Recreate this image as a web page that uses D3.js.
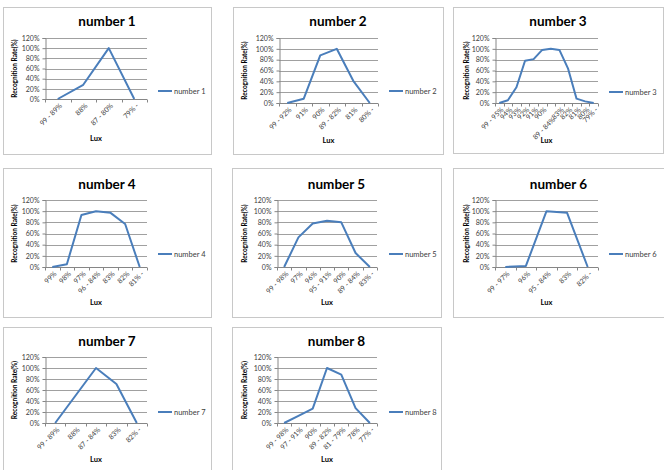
<!DOCTYPE html>
<html><head><meta charset="utf-8">
<script src="https://cdn.jsdelivr.net/npm/d3@7/dist/d3.min.js"></script>
<style>
html,body{margin:0;padding:0;background:#fff;}
svg{display:block;font-family:Lato,"Open Sans",sans-serif;}
</style></head>
<body>
<svg id="chart" width="664" height="470"></svg>
<script>
// ---- data ----
const titles = ["number 1","number 2","number 3","number 4","number 5","number 6","number 7","number 8"];
const cats1 = ["99 - 89%","88%","87 - 80%","79% -"];
const vals1 = [0, 0.28, 1.00, 0];
const cats2 = ["99 - 92%","91%","90%","89 - 82%","81%","80% -"];
const vals2 = [0, 0.08, 0.88, 1.00, 0.41, 0];
const cats3 = ["99 - 95%","94%","93%","92%","91%","90%","89 - 84%","83%","82%","81%","80%","79% -"];
const vals3 = [0, 0.05, 0.29, 0.78, 0.81, 0.98, 1.00, 0.98, 0.64, 0.08, 0.03, 0];
const cats4 = ["99%","98%","97%","96 - 84%","83%","82%","81% -"];
const vals4 = [0, 0.05, 0.93, 1.00, 0.97, 0.77, 0];
const cats5 = ["99 - 98%","97%","96%","95 - 91%","90%","89 - 84%","83% -"];
const vals5 = [0, 0.53, 0.78, 0.83, 0.80, 0.25, 0];
const cats6 = ["99 - 97%","96%","95 - 84%","83%","82% -"];
const vals6 = [0, 0.02, 1.00, 0.97, 0];
const cats7 = ["99 - 89%","88%","87 - 84%","83%","82% -"];
const vals7 = [0, 0.50, 1.00, 0.71, 0];
const cats8 = ["99 - 98%","97 - 91%","90%","89 - 82%","81 - 79%","78%","77% -"];
const vals8 = [0, 0.13, 0.26, 1.00, 0.88, 0.27, 0];
const yTicks = [0, 0.2, 0.4, 0.6, 0.8, 1.0, 1.2];
const yTitle = "Recognition Rate(%)";
const xTitle = "Lux";

const allCats = [cats1,cats2,cats3,cats4,cats5,cats6,cats7,cats8];
const allVals = [vals1,vals2,vals3,vals4,vals5,vals6,vals7,vals8];

// ---- layout (positions only) ----
const panels = [
  {x:3,   y:7,   w:208, h:147, pl:45,  pr:147, pt:38,  pb:99,  yt:15,  tb:26,  lb:141, lg:158, ly:91},
  {x:233, y:7,   w:210, h:147, pl:279, pr:378, pt:38,  pb:103, yt:245, tb:26,  lb:143, lg:389, ly:91},
  {x:453, y:7,   w:210, h:146, pl:495, pr:598, pt:38,  pb:103, yt:467, tb:26,  lb:143, lg:609, ly:92},
  {x:3,   y:168, w:208, h:149, pl:45,  pr:147, pt:200, pb:267, yt:15,  tb:189, lb:305, lg:158, ly:254},
  {x:232, y:168, w:209, h:149, pl:277, pr:377, pt:200, pb:267, yt:245, tb:189, lb:305, lg:389, ly:254},
  {x:453, y:168, w:211, h:149, pl:495, pr:598, pt:200, pb:267, yt:467, tb:189, lb:305, lg:609, ly:254},
  {x:3,   y:327, w:208, h:150, pl:45,  pr:147, pt:357, pb:423, yt:15,  tb:346, lb:462, lg:158, ly:412},
  {x:232, y:327, w:209, h:150, pl:277, pr:377, pt:357, pb:423, yt:245, tb:346, lb:462, lg:389, ly:412}
];
const lineColor = "#4A7EBB";
const gridColor = "#a0a0a0";
const axisColor = "#868686";
const textColor = "#404040";

const svg = d3.select("#chart");

panels.forEach((p, i) => {
  const cats = allCats[i], vals = allVals[i];
  const g = svg.append("g");
  g.append("rect").attr("x", p.x + 0.5).attr("y", p.y + 0.5).attr("width", p.w).attr("height", p.h)
    .attr("fill", "#fff").attr("stroke", "#c8c8c8").attr("stroke-width", 1);

  const x = d3.scaleBand().domain(cats).range([p.pl, p.pr]).padding(0);
  const y = d3.scaleLinear().domain([0, 1.2]).range([p.pb, p.pt]);

  // gridlines
  g.append("g").selectAll("line").data(yTicks.slice(1)).join("line")
    .attr("x1", p.pl).attr("x2", p.pr)
    .attr("y1", d => Math.round(y(d)) + 0.5).attr("y2", d => Math.round(y(d)) + 0.5)
    .attr("stroke", gridColor).attr("stroke-width", 1);

  // y axis
  const ya = g.append("g").attr("transform", `translate(${p.pl + 0.5},0)`)
    .call(d3.axisLeft(y).tickValues(yTicks).tickSize(3).tickPadding(3).tickFormat(d => Math.round(d * 100) + "%"));
  ya.select(".domain").attr("stroke", axisColor);
  ya.selectAll(".tick line").attr("stroke", axisColor);
  ya.selectAll(".tick text").attr("font-size", 7).attr("fill", textColor).attr("font-family", "Lato, sans-serif");

  // x axis
  const boundaries = cats.map(c => x(c)).concat([p.pr]);
  const xa = g.append("g").attr("transform", `translate(0,${Math.round(p.pb) + 0.5})`);
  xa.append("line").attr("x1", p.pl).attr("x2", p.pr).attr("stroke", axisColor);
  xa.selectAll("line.tk").data(boundaries).join("line").attr("class", "tk")
    .attr("x1", d => Math.round(d) + 0.5).attr("x2", d => Math.round(d) + 0.5).attr("y1", 0).attr("y2", 3)
    .attr("stroke", axisColor);
  xa.selectAll("text").data(cats).join("text")
    .attr("transform", (d, j) => {
      const drop = (i === 2 && j === 6) ? 10 : 0;
      return `translate(${x(d) + x.bandwidth() / 2 + 3},${5 + drop}) rotate(-45)`;
    })
    .attr("text-anchor", "end").attr("dy", "0.35em")
    .attr("font-size", 7).attr("fill", textColor).text(d => d);

  // line
  const line = d3.line().x((d, j) => x(cats[j]) + x.bandwidth() / 2).y(d => y(d));
  g.append("path").datum(vals).attr("d", line).attr("fill", "none")
    .attr("stroke", lineColor).attr("stroke-width", 2).attr("stroke-linejoin", "round");

  // title
  g.append("text").attr("x", p.x + p.w / 2).attr("y", p.tb).attr("text-anchor", "middle")
    .attr("font-size", 13.5).attr("font-weight", "bold").attr("fill", "#000").text(titles[i]);

  // y title
  g.append("text").attr("transform", `translate(${p.yt},${(p.pt + p.pb) / 2}) rotate(-90)`)
    .attr("text-anchor", "middle").attr("dy", "0.35em")
    .attr("font-size", 6.5).attr("font-weight", "bold").attr("fill", "#000").text(yTitle);

  // x title
  g.append("text").attr("x", (p.pl + p.pr) / 2).attr("y", p.lb).attr("text-anchor", "middle")
    .attr("font-size", 7.5).attr("font-weight", "bold").attr("fill", "#000").text(xTitle);

  // legend
  g.append("line").attr("x1", p.lg).attr("x2", p.lg + 14).attr("y1", p.ly).attr("y2", p.ly)
    .attr("stroke", lineColor).attr("stroke-width", 2);
  g.append("text").attr("x", p.lg + 16).attr("y", p.ly).attr("dy", "0.35em")
    .attr("font-size", 7.5).attr("fill", textColor).text(titles[i]);
});
</script>
</body></html>
